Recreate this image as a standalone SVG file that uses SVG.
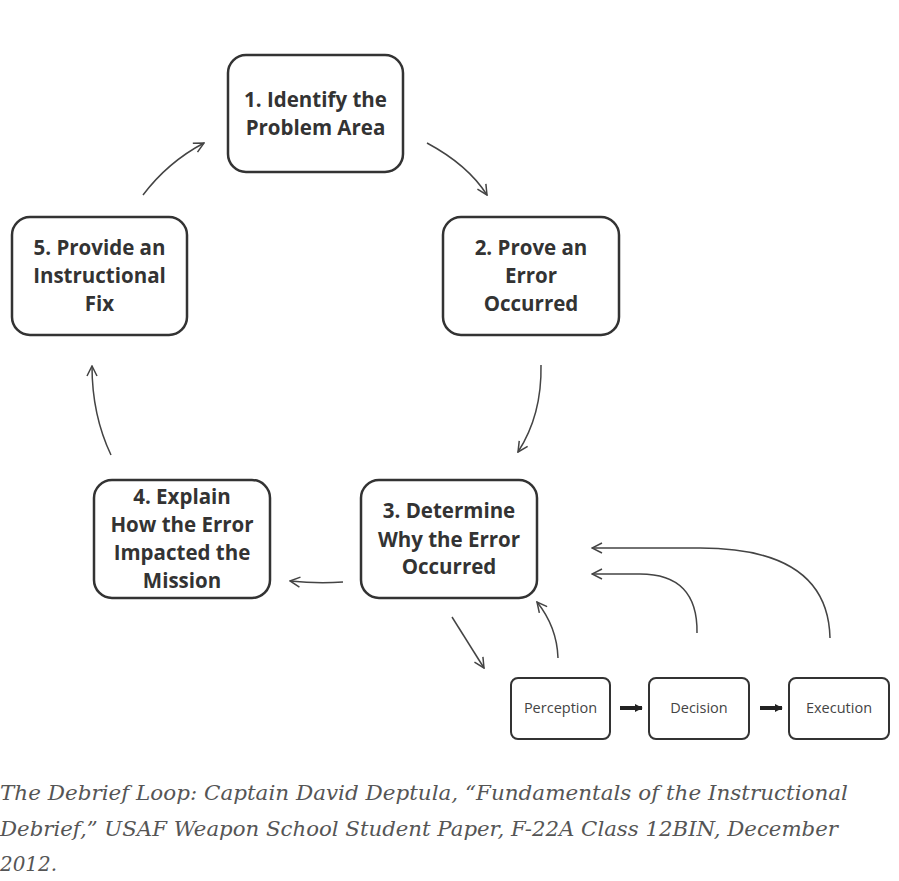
<svg xmlns="http://www.w3.org/2000/svg" width="899" height="881" viewBox="0 0 899 881">
<defs>
<marker id="open" viewBox="0 0 12 12" refX="11" refY="6" markerWidth="12" markerHeight="12" markerUnits="userSpaceOnUse" orient="auto">
<path d="M1,1 L11,6 L1,11" fill="none" stroke="#444" stroke-width="1.5"/>
</marker>
<marker id="solid" viewBox="0 0 10 10" refX="9" refY="5" markerWidth="8" markerHeight="8" markerUnits="userSpaceOnUse" orient="auto">
<path d="M0,0 L10,5 L0,10 Z" fill="#222"/>
</marker>
</defs>
<style>
.box{fill:#fff;stroke:#333;stroke-width:2.5}
.sbox{fill:#fff;stroke:#333;stroke-width:2}
.t{font-family:"Open Sans","DejaVu Sans",sans-serif;font-weight:bold;font-size:20.5px;fill:#333;text-anchor:middle}
.s{font-family:"Open Sans","DejaVu Sans",sans-serif;font-size:14.5px;fill:#444;text-anchor:middle}
.c{fill:none;stroke:#444;stroke-width:1.5;marker-end:url(#open)}
.cap{font-family:"DejaVu Serif","Liberation Serif",serif;font-style:italic;font-size:21px;fill:#555}
</style>
<rect width="899" height="881" fill="#fff"/>
<g id="n1"><rect class="box" x="228" y="55" width="175" height="117" rx="18"/>
<text class="t" x="315.5" y="107">1. Identify the</text>
<text class="t" x="315.5" y="135">Problem Area</text></g>
<g id="n2"><rect class="box" x="443" y="217" width="176" height="118" rx="18"/>
<text class="t" x="531" y="255">2. Prove an</text>
<text class="t" x="531" y="283">Error</text>
<text class="t" x="531" y="311">Occurred</text></g>
<g id="n3"><rect class="box" x="361" y="480" width="176" height="118" rx="18"/>
<text class="t" x="449" y="518">3. Determine</text>
<text class="t" x="449" y="547">Why the Error</text>
<text class="t" x="449" y="574">Occurred</text></g>
<g id="n4"><rect class="box" x="94" y="480" width="176" height="118" rx="18"/>
<text class="t" x="182" y="504">4. Explain</text>
<text class="t" x="182" y="532">How the Error</text>
<text class="t" x="182" y="560">Impacted the</text>
<text class="t" x="182" y="588">Mission</text></g>
<g id="n5"><rect class="box" x="12" y="217" width="175" height="118" rx="18"/>
<text class="t" x="99.5" y="255">5. Provide an</text>
<text class="t" x="99.5" y="283">Instructional</text>
<text class="t" x="99.5" y="311">Fix</text></g>
<g id="perception"><rect class="sbox" x="511" y="678" width="99" height="61" rx="7"/>
<text class="s" x="560.5" y="713">Perception</text></g>
<g id="decision"><rect class="sbox" x="649" y="678" width="100" height="61" rx="7"/>
<text class="s" x="699" y="713">Decision</text></g>
<g id="execution"><rect class="sbox" x="789" y="678" width="100" height="61" rx="7"/>
<text class="s" x="839" y="713">Execution</text></g>
<g id="connectors">
<path class="c" d="M427,143 Q468,165 487,195"/>
<path class="c" d="M541,365 Q542,415 518,452"/>
<path class="c" d="M343,582 Q318,584 290,581"/>
<path class="c" d="M111,455 Q92,415 92,366"/>
<path class="c" d="M143,195 Q168,162 204,143"/>
<path class="c" d="M452,617 L484,668"/>
<path class="c" d="M558,658 Q557,627 537,602"/>
<path class="c" d="M697,633 Q698,574 640,574 L592,574"/>
<path class="c" d="M830,638 Q828,548 700,548 L592,548"/>
<path d="M620,708 L642,708" stroke="#222" stroke-width="4" marker-end="url(#solid)"/>
<path d="M760,708 L782,708" stroke="#222" stroke-width="4" marker-end="url(#solid)"/>
</g>
<g id="caption">
<text class="cap" x="0" y="800" textLength="848" lengthAdjust="spacingAndGlyphs">The Debrief Loop: Captain David Deptula, “Fundamentals of the Instructional</text>
<text class="cap" x="0" y="836" textLength="838" lengthAdjust="spacingAndGlyphs">Debrief,” USAF Weapon School Student Paper, F-22A Class 12BIN, December</text>
<text class="cap" x="0" y="871" textLength="57" lengthAdjust="spacingAndGlyphs">2012.</text>
</g>
</svg>
